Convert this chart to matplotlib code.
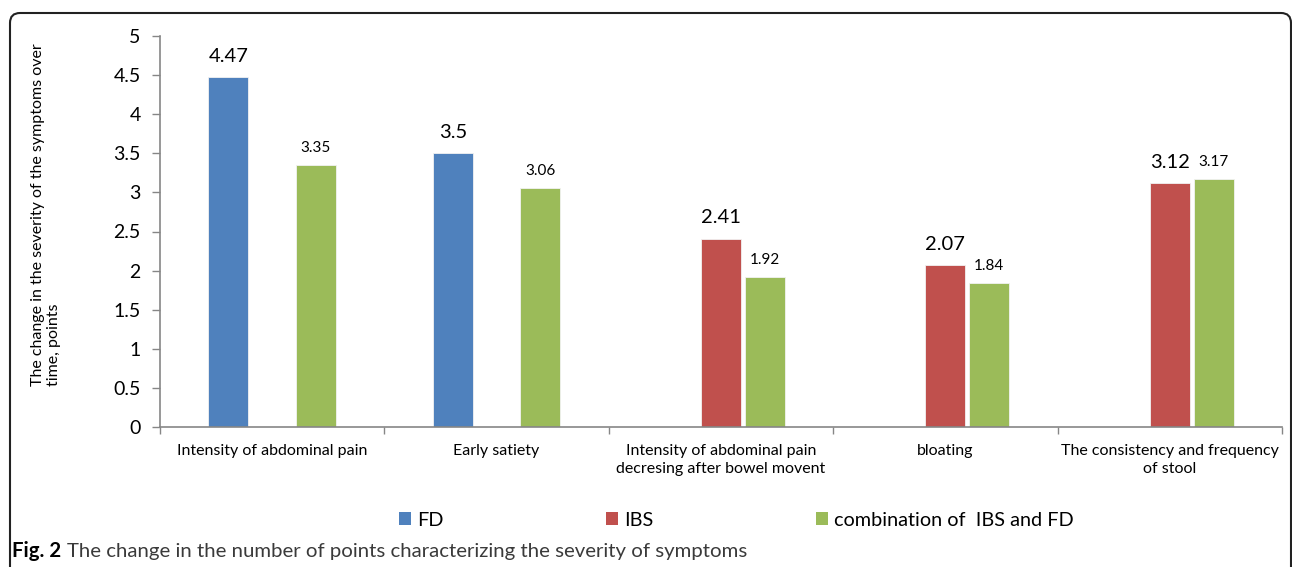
import numpy as np
import matplotlib
matplotlib.use("Agg")
from matplotlib import pyplot as plt
from matplotlib.patches import Patch, FancyBboxPatch
from matplotlib.transforms import IdentityTransform

plt.rcParams['font.family'] = ['Lato', 'DejaVu Sans']

categories = ['Intensity of abdominal pain',
              'Early satiety',
              'Intensity of abdominal pain\ndecresing after bowel movent',
              'bloating',
              'The consistency and frequency\nof stool']
series_names = ['FD', 'IBS', 'combination of  IBS and FD']
fd = [4.47, 3.5, None, None, None]
ibs = [None, None, 2.41, 2.07, 3.12]
combo = [3.35, 3.06, 1.92, 1.84, 3.17]
y_ticks = [0, 0.5, 1, 1.5, 2, 2.5, 3, 3.5, 4, 4.5, 5]
y_label = 'The change in the severity of the symptoms over\ntime, points'
caption_bold = 'Fig. 2'
caption_text = 'The change in the number of points characterizing the severity of symptoms'

colors = ['#4F81BD', '#C0504D', '#9BBB59']
axis_gray = '#868686'

W, H = 1292, 567
fig = plt.figure(figsize=(W / 100, H / 100), dpi=100)
ax = fig.add_axes([160 / W, 1 - 427 / H, (1282 - 160) / W, (427 - 36) / H])

x = np.arange(len(categories))
step = 0.195
width = 0.178
all_series = [fd, ibs, combo]
for i, (vals, col) in enumerate(zip(all_series, colors)):
    xs = [x[j] + (i - 1) * step for j, v in enumerate(vals) if v is not None]
    hs = [v for v in vals if v is not None]
    bars = ax.bar(xs, hs, width=width, color=col, edgecolor='#f2f2f2', linewidth=0.6)
    big = i < 2
    for b, h in zip(bars, hs):
        ax.annotate('%g' % h, (b.get_x() + b.get_width() / 2, h),
                    xytext=(0, 11 if big else 9.5), textcoords='offset points',
                    ha='center', va='baseline', fontsize=14.5 if big else 11)

ax.set_xlim(-0.5, len(categories) - 0.5)
ax.set_ylim(0, 5)
ax.set_yticks(y_ticks)
ax.set_yticklabels(['%g' % t for t in y_ticks], fontsize=14)
ax.set_xticks(np.arange(len(categories) + 1) - 0.5)
ax.set_xticklabels([])
ax.set_xticks(x, minor=True)
ax.set_xticklabels(categories, minor=True, fontsize=11.5, linespacing=1.3)
ax.tick_params(axis='x', which='minor', length=0, pad=12.5)
ax.tick_params(axis='x', which='major', length=5, color=axis_gray, width=1)
ax.tick_params(axis='y', length=6, color=axis_gray, width=1, pad=8)

for s in ['top', 'right']:
    ax.spines[s].set_visible(False)
for s in ['left', 'bottom']:
    ax.spines[s].set_color(axis_gray)
    ax.spines[s].set_linewidth(1.2)

fig.text(46 / W, 1 - 386 / H, y_label, rotation=90, ha='center', va='bottom',
         multialignment='left', fontsize=11.5, linespacing=1.25)

handles = [Patch(facecolor=c, edgecolor='none') for c in colors]
fig.legend(handles, series_names, loc='center left', bbox_to_anchor=(385 / W, 1 - 520 / H),
           ncol=3, frameon=False, fontsize=14.3, handlelength=0.6, handleheight=0.6,
           handletextpad=0.3, columnspacing=8.2, borderpad=0.2)

t1 = fig.text(12 / W, 1 - 551 / H, caption_bold, fontweight='bold', fontsize=14.7,
              va='center', ha='left')
fig.canvas.draw()
bb = t1.get_window_extent()
fig.text((bb.x1 + 6) / W, 1 - 551 / H, caption_text, fontsize=14.7, va='center',
         ha='left', color='#3a3a3a')

border = FancyBboxPatch((10, -40), 1281, H - 13 + 40,
                        boxstyle='round,pad=0,rounding_size=10',
                        transform=IdentityTransform(), facecolor='none',
                        edgecolor='#222222', linewidth=1.5)
fig.patches.append(border)

fig.savefig('out.png', dpi=100)
